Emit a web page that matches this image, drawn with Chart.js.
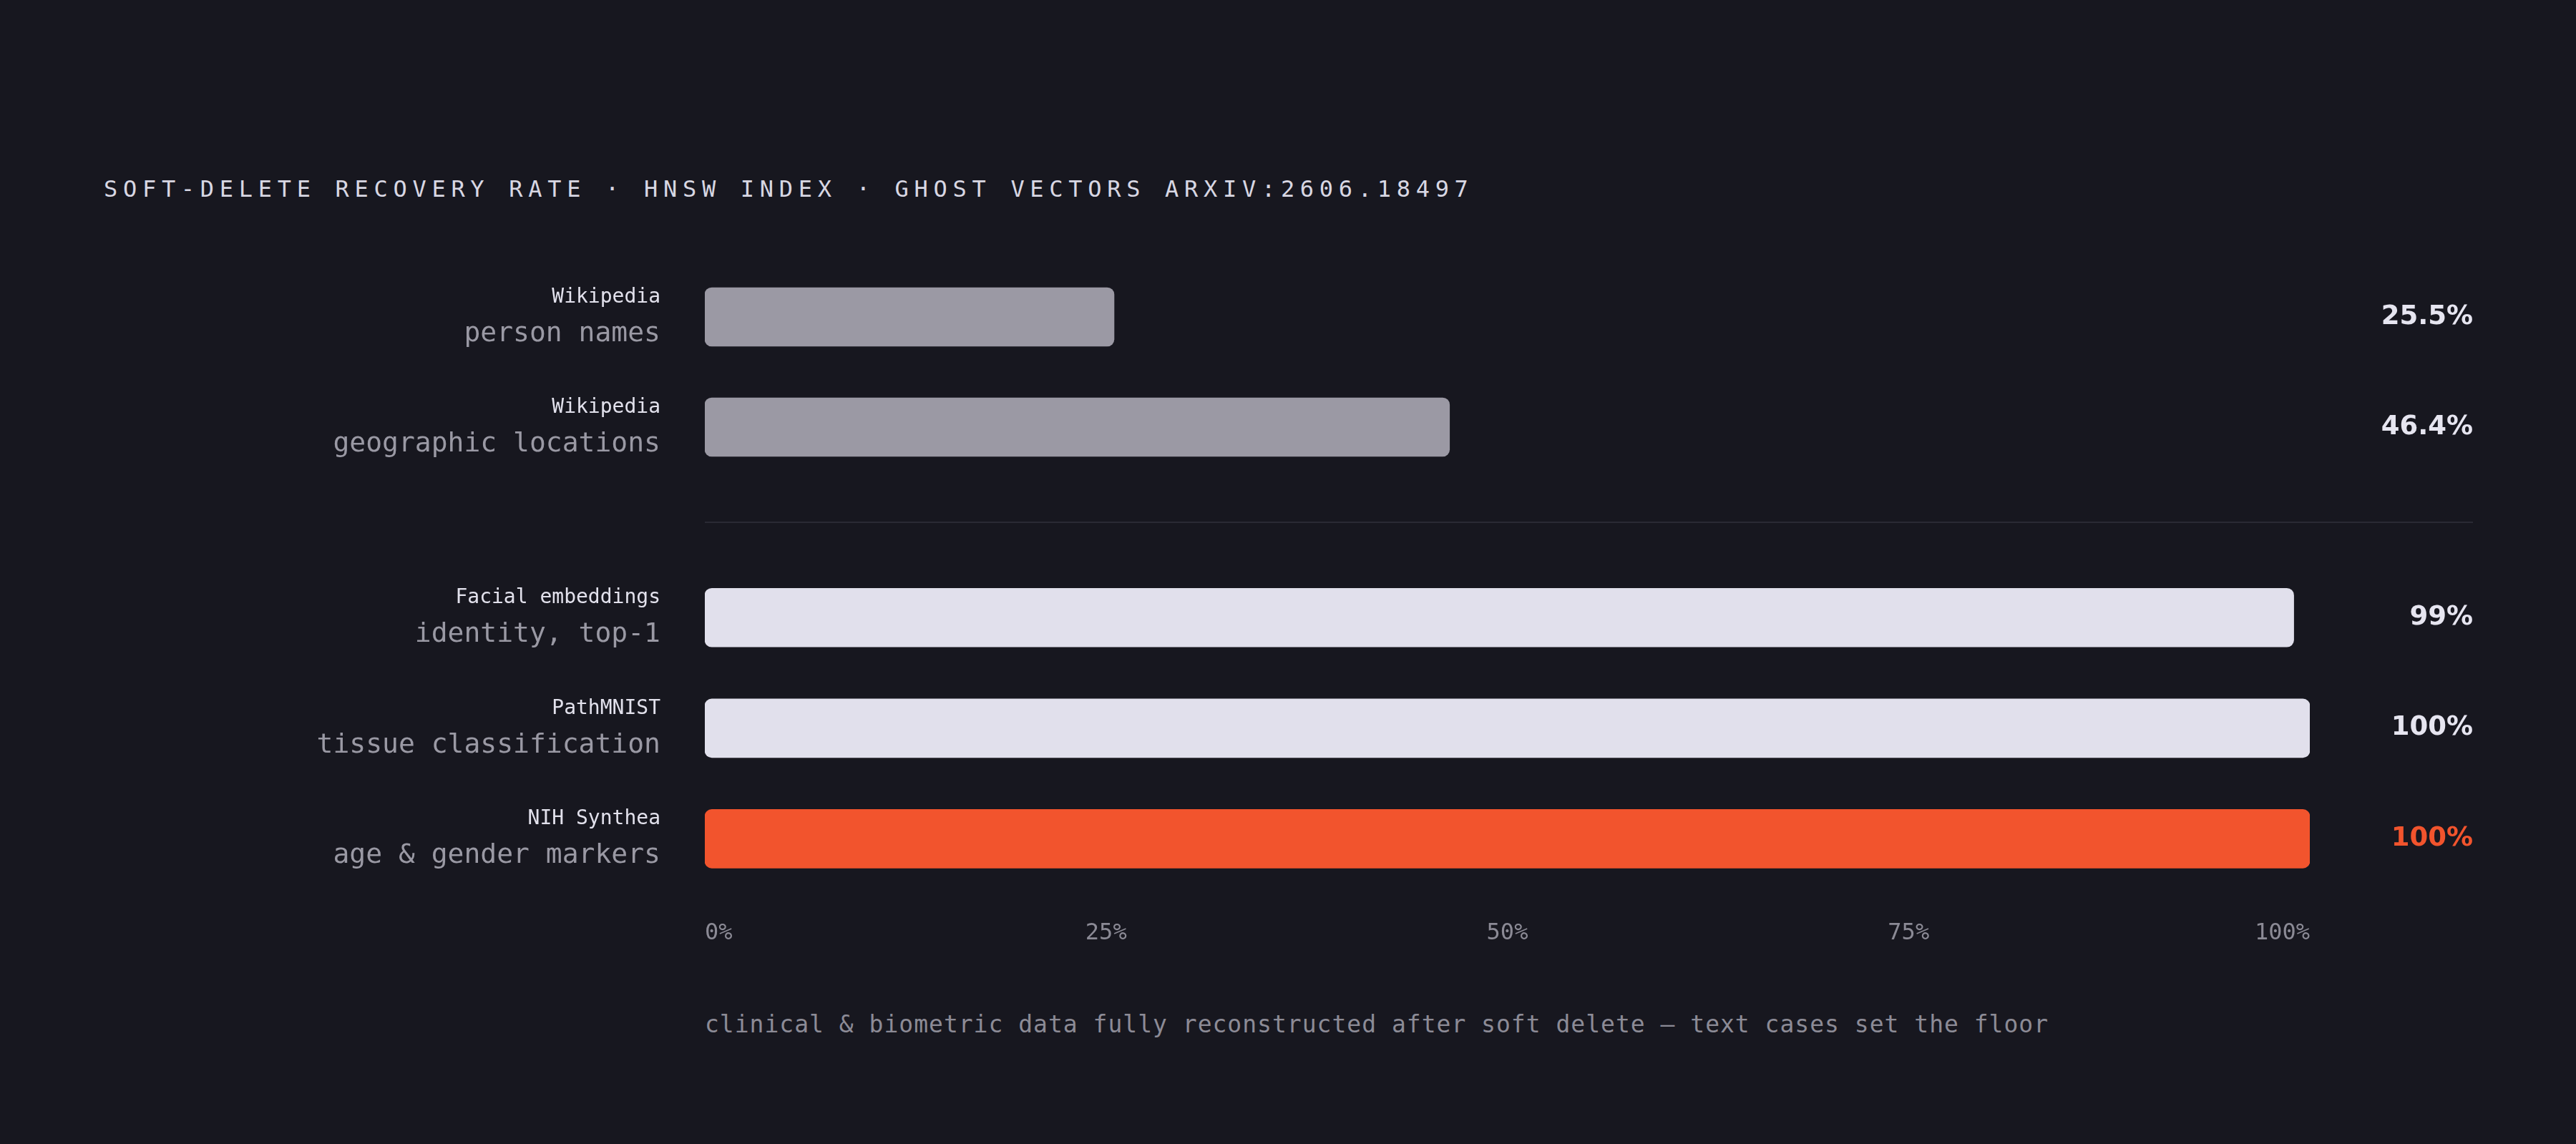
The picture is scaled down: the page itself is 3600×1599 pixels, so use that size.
<!DOCTYPE html>
<html>
<head>
<meta charset="utf-8">
<script src="https://cdn.jsdelivr.net/npm/chart.js@4.4.1/dist/chart.umd.min.js"></script>
<style>
  html, body { margin: 0; padding: 0; background: #17171f; }
  body { width: 3600px; height: 1599px; position: relative; overflow: hidden; }
  .title {
    position: absolute; left: 145px; top: 248px;
    font: 32px "DejaVu Sans Mono", monospace; line-height: 32px;
    letter-spacing: 7.7px; color: #d8d7e3; white-space: nowrap;
  }
  canvas { position: absolute; left: 0; }
  #top { top: 366px; }
  #bottom { top: 786px; }
  .divider { position: absolute; left: 985px; width: 2471px; top: 729px; height: 2px; background: #2a2a34; }
  .note {
    position: absolute; left: 985px; top: 1415px;
    font: 33px "DejaVu Sans Mono", monospace; line-height: 33px;
    letter-spacing: 1px; color: #8c8b96; white-space: nowrap;
  }
</style>
</head>
<body>
<div class="title">SOFT-DELETE RECOVERY RATE · HNSW INDEX · GHOST VECTORS ARXIV:2606.18497</div>
<canvas id="top" width="3600" height="308"></canvas>
<div class="divider"></div>
<canvas id="bottom" width="3600" height="566"></canvas>
<div class="note">clinical &amp; biometric data fully reconstructed after soft delete — text cases set the floor</div>

<script>
// data
const sources = ['Wikipedia', 'Wikipedia', 'Facial embeddings', 'PathMNIST', 'NIH Synthea'];
const tasks = ['person names', 'geographic locations', 'identity, top-1', 'tissue classification', 'age & gender markers'];
const recovery = [25.5, 46.4, 99, 100, 100];
const valueLabels = ['25.5%', '46.4%', '99%', '100%', '100%'];
const xTicks = [0, 25, 50, 75, 100];
const topRows = [0, 1];      // text cases
const bottomRows = [2, 3, 4]; // clinical & biometric

const GREY = '#9b99a4', LIGHT = '#e1e0ec', ORANGE = '#f2542d';
const barColor = i => (i < 2 ? GREY : (i === 4 ? ORANGE : LIGHT));

// draws the two-line labels on the left and the values on the right
const rowLabels = {
    id: 'rowLabels',
    afterDatasetsDraw(chart) {
        const ctx = chart.ctx;
        const area = chart.chartArea;
        const rows = chart.config.options.rows;
        const yScale = chart.scales.y;
        ctx.save();
        rows.forEach((r, i) => {
            const y = yScale.getPixelForValue(i);
            ctx.textAlign = 'right';
            ctx.textBaseline = 'alphabetic';
            ctx.font = '28px "DejaVu Sans Mono"';
            ctx.fillStyle = '#e2e1ec';
            ctx.fillText(sources[r], area.left - 62, y - 20);
            ctx.font = '38px "DejaVu Sans Mono"';
            ctx.fillStyle = '#9a99a4';
            ctx.fillText(tasks[r], area.left - 62, y + 34);

            ctx.font = 'bold 37px "DejaVu Sans"';
            ctx.textBaseline = 'middle';
            ctx.fillStyle = r === 4 ? ORANGE : '#e6e5f0';
            ctx.fillText(valueLabels[r], area.right + 228, y);
        });
        ctx.restore();
    }
};

function makeChart(id, rows, showAxis) {
    const ctx = document.getElementById(id).getContext('2d');
    return new Chart(ctx, {
        type: 'bar',
        data: {
            labels: rows.map(r => tasks[r]),
            datasets: [{
                data: rows.map(r => recovery[r]),
                backgroundColor: rows.map(barColor),
                borderRadius: 10,
                borderSkipped: false,
                barThickness: 82
            }]
        },
        options: {
            rows: rows,
            indexAxis: 'y',
            responsive: false,
            animation: false,
            devicePixelRatio: 1,
            layout: { padding: { left: 985, right: 372, top: 0, bottom: 0 } },
            plugins: { legend: { display: false }, tooltip: { enabled: false } },
            scales: {
                x: {
                    type: 'linear',
                    min: 0,
                    max: 100,
                    display: showAxis,
                    grid: { display: false },
                    border: { display: false },
                    afterBuildTicks: axis => { axis.ticks = xTicks.map(v => ({ value: v })); },
                    ticks: {
                        callback: v => v + '%',
                        align: 'inner',
                        padding: 28,
                        color: '#8b8a95',
                        font: { family: '"DejaVu Sans Mono"', size: 32 }
                    }
                },
                y: { display: false, grid: { display: false } }
            }
        },
        plugins: [rowLabels]
    });
}

makeChart('top', topRows, false);
makeChart('bottom', bottomRows, true);
</script>
</body>
</html>
